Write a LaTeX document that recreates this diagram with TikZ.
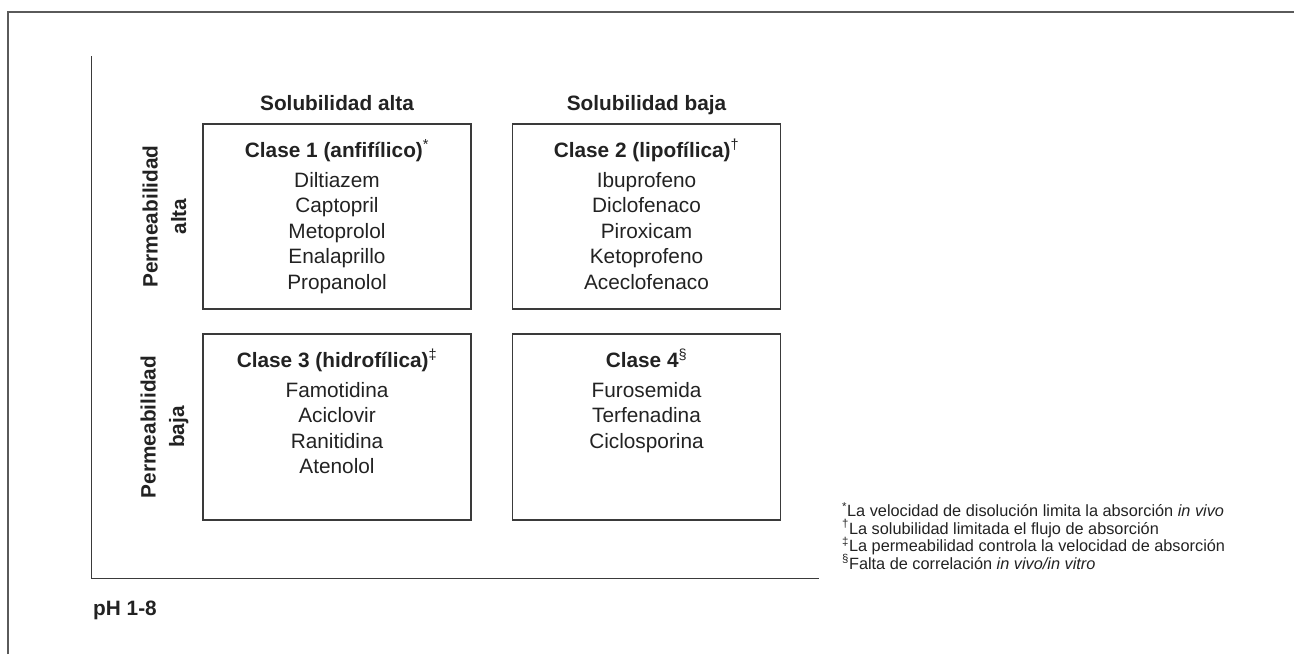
\documentclass[tikz,border=0pt]{standalone}
\usepackage{fontspec}
\setmainfont{Liberation Sans}
\definecolor{txt}{HTML}{222222}
\definecolor{framecol}{HTML}{5A5A5A}
\definecolor{boxcol}{HTML}{3A3A3A}
\begin{document}
\begin{tikzpicture}[x=1pt,y=-1pt,
  cbox/.style={draw=boxcol,line width=1.3pt,minimum width=268pt,minimum height=185pt,inner sep=0pt},
  drug/.style={anchor=base,inner sep=0pt,text=txt,font=\fontsize{20.8}{25}\selectfont},
  head/.style={anchor=base,inner sep=0pt,text=txt,font=\fontsize{20.8}{25}\selectfont\bfseries},
  side/.style={rotate=90,align=center,inner sep=0pt,text=txt,font=\fontsize{20.8}{28.5}\selectfont\bfseries},
  fnote/.style={anchor=base west,inner sep=0pt,text=txt,font=\fontsize{16.3}{17}\selectfont},
  axisline/.style={draw=boxcol,line width=1pt},
  frameline/.style={draw=framecol,line width=1.8pt}]
\useasboundingbox (0,0) rectangle (1294,654);
% outer frame (partial)
\coordinate (f1) at (8,654);
\coordinate (f2) at (8,12);
\coordinate (f3) at (1294,12);
\draw[frameline] (f1) -- (f2) -- (f3);
% axes
\coordinate (atop) at (91,56);
\coordinate (aorig) at (91,578);
\coordinate (aright) at (819,578);
\draw[axisline] (atop) -- (aorig) -- (aright);
% boxes
\node[cbox] (b1) at (337,216.5) {};
\node[cbox] (b2) at (646.5,216.5) {};
\node[cbox,minimum height=186pt] (b3) at (337,427) {};
\node[cbox,minimum height=186pt] (b4) at (646.5,427) {};
% column headings
\node[head] (sa) at (337,110) {Solubilidad alta};
\node[head] (sb) at (646.5,110) {Solubilidad baja};
% row headings
\node[side] (pa) at (164.5,216.5) {Permeabilidad\\alta};
\node[side] (pb) at (164.5,427) {Permeabilidad\\baja};
% class headings
\node[head] (h1) at (337,157.5) {Clase 1 (anfifílico)\textsuperscript{\mdseries*}};
\node[head] (h2) at (646.5,157.5) {Clase 2 (lipofílica)\textsuperscript{\mdseries†}};
\node[head] (h3) at (337,367.5) {Clase 3 (hidrofílica)\textsuperscript{\mdseries‡}};
\node[head] (h4) at (646.5,367.5) {Clase 4\textsuperscript{\mdseries§}};
% drug lists
\foreach \t [count=\i] in {Diltiazem,Captopril,Metoprolol,Enalaprillo,Propanolol}
  \node[drug] (da\i) at (337,{187+25.6*(\i-1)}) {\t};
\foreach \t [count=\i] in {Ibuprofeno,Diclofenaco,Piroxicam,Ketoprofeno,Aceclofenaco}
  \node[drug] (db\i) at (646.5,{187+25.6*(\i-1)}) {\t};
\foreach \t [count=\i] in {Famotidina,Aciclovir,Ranitidina,Atenolol}
  \node[drug] (dc\i) at (337,{397+25.6*(\i-1)}) {\t};
\foreach \t [count=\i] in {Furosemida,Terfenadina,Ciclosporina}
  \node[drug] (dd\i) at (646.5,{397+25.6*(\i-1)}) {\t};
% pH
\node[head,anchor=base west] (ph) at (93,615) {pH 1-8};
% footnotes
\node[fnote] (n1) at (842,516.5) {\textsuperscript{*}La velocidad de disolución limita la absorción \textit{in vivo}};
\node[fnote] (n2) at (842,534) {\textsuperscript{†}La solubilidad limitada el flujo de absorción};
\node[fnote] (n3) at (842,551.5) {\textsuperscript{‡}La permeabilidad controla la velocidad de absorción};
\node[fnote] (n4) at (842,569) {\textsuperscript{§}Falta de correlación \textit{in vivo/in vitro}};
\end{tikzpicture}
\end{document}
